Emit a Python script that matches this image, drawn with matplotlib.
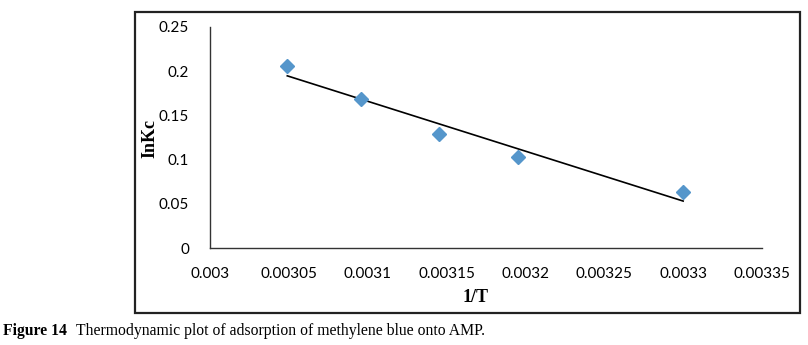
import matplotlib.pyplot as plt
import numpy as np
from matplotlib.patches import Rectangle

# 1/T values and ln Kc values
inv_t = [0.003049, 0.003096, 0.003145, 0.003195, 0.003300]
ln_kc = [0.206, 0.168, 0.129, 0.103, 0.063]

x_ticks = [0.003, 0.00305, 0.0031, 0.00315, 0.0032, 0.00325, 0.0033, 0.00335]
x_tick_labels = ["0.003", "0.00305", "0.0031", "0.00315", "0.0032", "0.00325", "0.0033", "0.00335"]
y_ticks = [0, 0.05, 0.1, 0.15, 0.2, 0.25]
y_tick_labels = ["0", "0.05", "0.1", "0.15", "0.2", "0.25"]

W, H = 808, 345
fig = plt.figure(figsize=(W / 100, H / 100), dpi=100)
ax = fig.add_axes([210 / W, 1 - 248 / H, (762 - 210) / W, (248 - 27) / H])

ax.plot(inv_t, ln_kc, marker='D', ls='none', color='#5596cb', markersize=7.5, zorder=3)

# linear trendline over the data range
slope, intercept = np.polyfit(inv_t, ln_kc, 1)
xs = np.array([inv_t[0], inv_t[-1]])
ax.plot(xs, slope * xs + intercept, color='black', lw=1.2, zorder=2)

ax.set_xlim(x_ticks[0], x_ticks[-1])
ax.set_ylim(y_ticks[0], y_ticks[-1])
ax.set_xticks(x_ticks)
ax.set_xticklabels(x_tick_labels)
ax.set_yticks(y_ticks)
ax.set_yticklabels(y_tick_labels)
ax.tick_params(length=0, labelsize=11)
ax.tick_params(axis='x', pad=14)
ax.tick_params(axis='y', pad=15)
for lbl in ax.get_xticklabels() + ax.get_yticklabels():
    lbl.set_fontfamily('Lato')

for s in ['top', 'right']:
    ax.spines[s].set_visible(False)
for s in ['left', 'bottom']:
    ax.spines[s].set_color('#333333')
    ax.spines[s].set_linewidth(1.0)

fig.text(476 / W, 1 - 298 / H, "1/T", ha='center', va='center',
         family='Liberation Serif', fontweight='bold', fontsize=13)
fig.text(150 / W, 1 - 138 / H, "InKc", ha='center', va='center', rotation=90,
         family='Liberation Serif', fontweight='bold', fontsize=13)

# frame around the chart
fig.patches.append(Rectangle((135 / W, 1 - 313 / H), (800 - 135) / W, (313 - 12) / H,
                             transform=fig.transFigure, fill=False,
                             edgecolor='#222222', lw=1.6))

# caption
t1 = fig.text(3 / W, 1 - 331 / H, "Figure 14", ha='left', va='center',
              family='Liberation Serif', fontweight='bold', fontsize=11.3)
fig.canvas.draw()
bb = t1.get_window_extent()
fig.text((bb.x1 + 9) / W, 1 - 331 / H,
         "Thermodynamic plot of adsorption of methylene blue onto AMP.",
         ha='left', va='center', family='Liberation Serif', fontsize=11.3)

fig.savefig("out.png", dpi=100)
